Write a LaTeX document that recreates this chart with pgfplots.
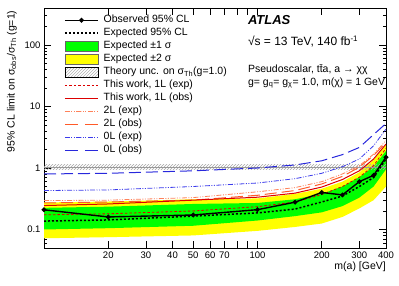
\documentclass[border=0pt]{standalone}
\usepackage{pgfplots}
\pgfplotsset{compat=1.18}
\usepackage{fontspec}
\setmainfont{Liberation Sans}
\usetikzlibrary{patterns}
\definecolor{bandgreen}{RGB}{0,255,0}
\definecolor{bandyellow}{RGB}{255,255,0}
\definecolor{redline}{RGB}{220,0,0}
\definecolor{orline}{RGB}{255,90,40}
\definecolor{orexp}{RGB}{255,130,90}
\definecolor{blueline}{RGB}{40,40,220}
\definecolor{bluexp}{RGB}{60,60,235}
\pgfplotsset{
 lineleg/.style={legend image code/.code={\draw[mark repeat=2,mark phase=2,##1] plot coordinates {(0pt,0pt) (16.5pt,0pt) (33pt,0pt)};}},
 boxleg/.style={legend image code/.code={\draw[##1] (0pt,-5pt) rectangle (33pt,5pt);}},
}
\begin{document}
\begin{tikzpicture}
\begin{axis}[
 scale only axis, width=342pt, height=240pt,
 xmode=log, ymode=log,
 xmin=10, xmax=400, ymin=0.05, ymax=400,
 xtick={20,30,40,50,60,70,80,90,100,200,300,400},
 xticklabels={20,30,40,50,60,70,,,100,200,300,400},
 ytick={0.1,1,10,100},
 yticklabels={0.1,1,10,100},
 minor ytick={0.06,0.07,0.08,0.09,0.2,0.3,0.4,0.5,0.6,0.7,0.8,0.9,2,3,4,5,6,7,8,9,20,30,40,50,60,70,80,90,200,300,400},
 tick align=inside,
 major tick length=7pt, minor tick length=3.5pt,
 tick style={black, line width=0.5pt},
 axis line style={line width=0.6pt},
 ticklabel style={font=\fontsize{9.5}{11}\selectfont},
 /pgf/number format/assume math mode=true,
 xlabel={m(a) [GeV]},
 xlabel style={at={(axis description cs:1,-0.055)}, anchor=north east, font=\fontsize{10.5}{12}\selectfont, inner sep=0pt},
 ylabel={95\% CL limit on σ\textsubscript{obs}/σ\textsubscript{Th} (g=1)},
 ylabel style={at={(axis description cs:-0.094,0.99)}, anchor=east, font=\fontsize{10.5}{12}\selectfont, inner sep=0pt},
 legend cell align=left,
 legend style={at={(axis description cs:0.0585,0.977)}, anchor=north west, draw=none, fill=none,
   font=\fontsize{10.5}{12}\selectfont, inner sep=0pt, row sep=0pt, column sep=4pt,
   nodes={inner sep=1pt, text height=8pt, text depth=3pt}},
]
\coordinate (sw) at (rel axis cs:0,0);
% legend
\addlegendimage{lineleg, black, line width=1.4pt, mark=*, mark size=1.6pt}
\addlegendentry{Observed 95\% CL}
\addlegendimage{lineleg, black, line width=1.5pt, dash pattern=on 2pt off 2pt}
\addlegendentry{Expected 95\% CL}
\addlegendimage{boxleg, fill=bandgreen, draw=black!60, line width=0.8pt}
\addlegendentry{Expected ±1 σ}
\addlegendimage{boxleg, fill=bandyellow, draw=black!60, line width=0.8pt}
\addlegendentry{Expected ±2 σ}
\addlegendimage{boxleg, draw=none, pattern=north east lines, pattern color=gray!60}
\addlegendentry{Theory unc. on σ\textsubscript{Th}(g=1.0)}
\addlegendimage{lineleg, redline, line width=0.8pt, dash pattern=on 2.5pt off 2pt}
\addlegendentry{This work, 1L (exp)}
\addlegendimage{lineleg, redline, line width=1pt}
\addlegendentry{This work, 1L (obs)}
\addlegendimage{lineleg, orexp, line width=0.8pt, dash pattern=on 5pt off 1.5pt on 1pt off 1.5pt on 1pt off 1.5pt}
\addlegendentry{2L (exp)}
\addlegendimage{lineleg, orline, line width=1pt, dash pattern=on 13pt off 7pt}
\addlegendentry{2L (obs)}
\addlegendimage{lineleg, bluexp, line width=0.8pt, dash pattern=on 5pt off 1.5pt on 1pt off 1.5pt on 1pt off 1.5pt}
\addlegendentry{0L (exp)}
\addlegendimage{lineleg, blueline, line width=1pt, dash pattern=on 13pt off 7pt}
\addlegendentry{0L (obs)}
% bands
\addplot[fill=bandyellow, draw=none, forget plot] coordinates {
 (10,0.275)(20,0.285)(50,0.31)(100,0.32)(150,0.38)(200,0.46)(250,0.60)(300,0.85)(350,1.35)(400,2.4)
 (400,0.5)(350,0.30)(300,0.22)(250,0.16)(200,0.125)(150,0.11)(100,0.095)(50,0.08)(20,0.075)(10,0.072)} -- cycle;
\addplot[fill=bandgreen, draw=none, forget plot] coordinates {
 (10,0.225)(20,0.235)(50,0.26)(100,0.27)(150,0.31)(200,0.38)(250,0.50)(300,0.71)(350,1.05)(400,1.9)
 (400,0.95)(350,0.50)(300,0.33)(250,0.24)(200,0.19)(150,0.165)(100,0.14)(50,0.115)(20,0.105)(10,0.10)} -- cycle;
% theory band
\addplot[draw=none, pattern=north east lines, pattern color=gray!70, forget plot] coordinates {
 (10,0.93)(400,0.93)(400,1.15)(10,1.15)} -- cycle;
\addplot[gray!80, line width=1pt, forget plot] coordinates {(10,1)(400,1)};
% other analyses
\addplot[blueline, line width=1pt, dash pattern=on 12pt off 5pt, forget plot] coordinates {
 (10,0.80)(20,0.82)(50,0.90)(100,1.0)(150,1.12)(200,1.31)(250,1.65)(300,2.16)(350,3.5)(400,5.3)};
\addplot[bluexp, line width=0.8pt, dash pattern=on 5pt off 1.5pt on 1pt off 1.5pt on 1pt off 1.5pt, forget plot] coordinates {
 (10,0.43)(20,0.44)(50,0.50)(100,0.57)(150,0.67)(200,0.82)(250,1.05)(300,1.4)(350,2.3)(400,4.3)};
\addplot[orexp, line width=0.8pt, dash pattern=on 5pt off 1.5pt on 1pt off 1.5pt on 1pt off 1.5pt, forget plot] coordinates {
 (10,0.295)(20,0.30)(50,0.33)(100,0.41)(150,0.48)(200,0.60)(250,0.80)(300,1.09)(350,1.68)(400,2.8)};
\addplot[orline, line width=1pt, dash pattern=on 12pt off 5pt, forget plot] coordinates {
 (10,0.27)(20,0.28)(50,0.30)(100,0.36)(150,0.43)(200,0.55)(250,0.73)(300,1.03)(350,1.6)(400,2.6)};
\addplot[redline, line width=1pt, forget plot] coordinates {
 (10,0.245)(20,0.26)(50,0.30)(100,0.335)(150,0.39)(200,0.49)(250,0.65)(300,0.90)(350,1.4)(400,2.45)};
\addplot[redline, line width=0.8pt, dash pattern=on 2.5pt off 2pt, forget plot] coordinates {
 (10,0.173)(20,0.18)(50,0.20)(100,0.235)(150,0.28)(200,0.37)(250,0.50)(300,0.71)(350,1.09)(400,2.1)};
% expected & observed
\addplot[black, line width=1.5pt, dash pattern=on 2pt off 2pt, forget plot] coordinates {
 (10,0.137)(20,0.143)(50,0.165)(100,0.186)(150,0.215)(200,0.28)(250,0.35)(300,0.50)(350,0.70)(400,1.4)};
\addplot[black, line width=1.4pt, mark=*, mark size=1.6pt, forget plot] coordinates {
 (10,0.209)(20,0.16)(50,0.172)(100,0.21)(150,0.278)(200,0.40)(250,0.365)(300,0.60)(350,0.76)(400,1.5)};
% labels
\node[anchor=west, inner sep=0pt, font=\fontsize{13}{15}\selectfont\bfseries\itshape] at (axis description cs:0.596,0.950) {ATLAS};
\node[anchor=west, inner sep=0pt, font=\fontsize{12}{14}\selectfont] at (axis description cs:0.596,0.860) {√s = 13 TeV, 140 fb\textsuperscript{-1}};
\node[anchor=west, inner sep=0pt, font=\fontsize{10.5}{12}\selectfont] at (axis description cs:0.596,0.742) {Pseudoscalar, t\={t}a, a → χχ};
\node[anchor=west, inner sep=0pt, font=\fontsize{10.5}{12}\selectfont] at (axis description cs:0.596,0.6875) {g= g\textsubscript{q}= g\textsubscript{χ}= 1.0, m(χ) = 1 GeV};
\end{axis}
\pgfresetboundingbox
\useasboundingbox ([xshift=-44pt,yshift=-38pt]sw) rectangle ++(399pt,286pt);
\end{tikzpicture}
\end{document}
